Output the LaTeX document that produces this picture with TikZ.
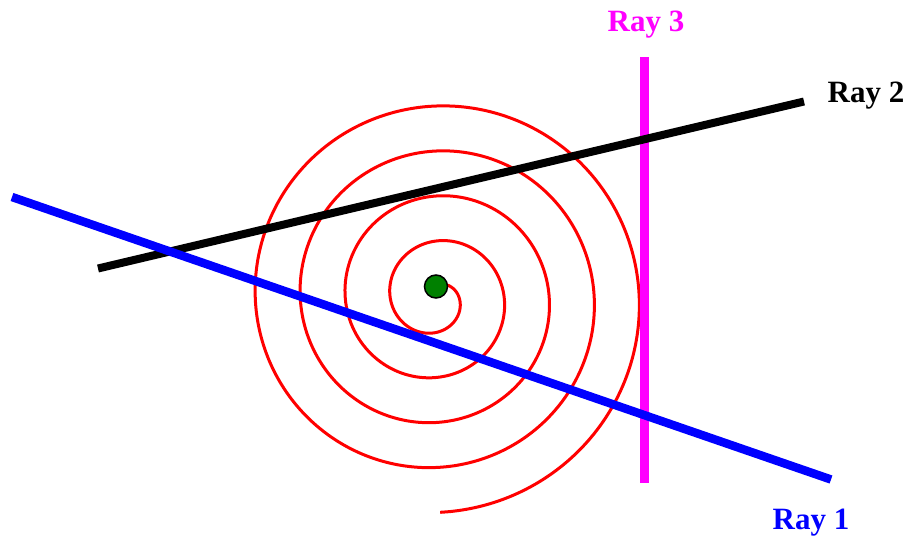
\documentclass[tikz,border=0pt]{standalone}
\usepackage{fontspec}
\setmainfont{Liberation Serif}
\definecolor{raymag}{RGB}{255,0,255}
\definecolor{rayblue}{RGB}{0,0,255}
\definecolor{dotgreen}{RGB}{0,128,0}
\begin{document}
\begin{tikzpicture}[x=1pt,y=-1pt,
  spiralline/.style={draw=red,line width=3pt},
  rayline/.style={line width=#1,line cap=butt},
  raylabel/.style={anchor=base west,inner sep=0pt,font=\fontsize{31}{31}\selectfont\bfseries},
  centerdot/.style={circle,fill=dotgreen,draw=black,line width=1.5pt,minimum size=23pt,inner sep=0pt}]
\useasboundingbox (0,0) rectangle (912,544);
% spiral
\draw[spiralline] plot[domain=0:4.5,samples=600,smooth,variable=\s]
  ({436+(12+45*\s)*sin(360*\s)},{298-(12+45*\s)*cos(360*\s)});
% ray endpoints
\coordinate (r3a) at (644.5,57);
\coordinate (r3b) at (644.5,483);
\coordinate (r2a) at (98,268.5);
\coordinate (r2b) at (804,101.5);
\coordinate (r1a) at (12,197);
\coordinate (r1b) at (831,479.5);
% rays
\draw[rayline=9pt,draw=raymag] (r3a) -- (r3b);
\draw[rayline=8pt,draw=black] (r2a) -- (r2b);
\draw[rayline=8.5pt,draw=rayblue] (r1a) -- (r1b);
% centre dot
\node[centerdot] (dot) at (436,286.5) {};
% labels
\node[raylabel,text=raymag] (l3) at (607.5,31.5) {Ray 3};
\node[raylabel,text=black] (l2) at (827.5,102) {Ray 2};
\node[raylabel,text=rayblue] (l1) at (772.5,529) {Ray 1};
\end{tikzpicture}
\end{document}
